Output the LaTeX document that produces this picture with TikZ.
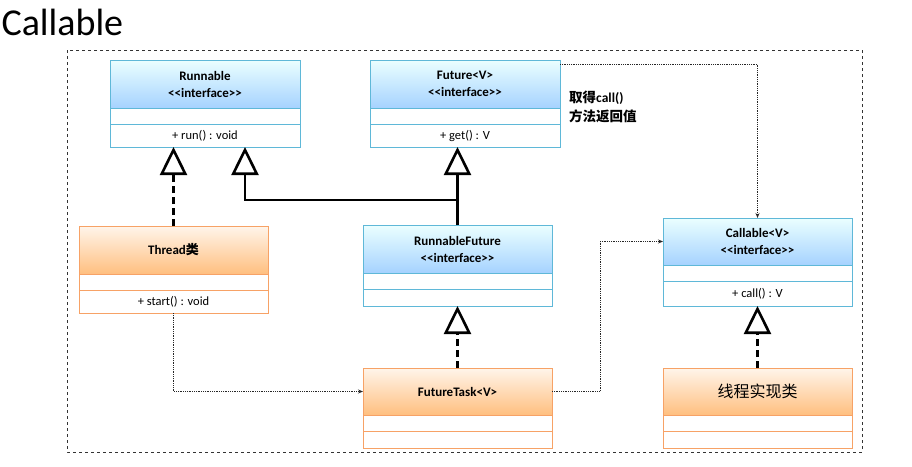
\documentclass[tikz,border=0pt]{standalone}
\usepackage{fontspec}
\setmainfont{Carlito}
\newfontfamily\cjk{Noto Sans CJK SC}
\usetikzlibrary{positioning, arrows.meta}
\definecolor{ifline}{HTML}{5FB8D8}
\definecolor{clline}{HTML}{F7A266}
\newcommand{\ltlt}{\textless\kern0pt\textless}
\newcommand{\gtgt}{\textgreater\kern0pt\textgreater}
\tikzset{
  hdr/.style={draw, rectangle, outer sep=0pt, inner sep=0pt, anchor=north west, align=center, font=\bfseries\fontsize{13}{17}\selectfont},
  ifc/.style={hdr, draw=ifline, top color=cyan!8, bottom color=cyan!50!blue!35},
  cls/.style={hdr, draw=clline, top color=orange!8, bottom color=orange!50},
  row/.style={draw, rectangle, fill=white, outer sep=0pt, inner sep=0pt, below=0pt of #1, font=\fontsize{12.5}{14}\selectfont},
  inherit/.style={line width=2.6pt, -{Triangle[open, length=28pt, width=27pt, fill=white]}},
  realize/.style={inherit, dash pattern=on 7pt off 4pt},
  dep/.style={densely dotted, thick, gray!30!black, -{Stealth[length=5pt, width=4pt]}}
}
\begin{document}
\begin{tikzpicture}[x=1pt, y=-1pt]
    \useasboundingbox (0,0) rectangle (912,466);
    % Title and frame
    \node[anchor=west, font=\fontsize{38}{44}\selectfont] (title) at (-2,22) {Callable};
    \draw[dashed, gray!40!black] (67,50) rectangle (862,452);
    % Interfaces
    \node[ifc, minimum width=190pt, minimum height=48pt] (run) at (110,60) {Runnable\\\ltlt interface\gtgt};
    \node[row=run, draw=ifline, minimum width=190pt, minimum height=16pt] (run1) {};
    \node[row=run1, draw=ifline, minimum width=190pt, minimum height=23pt] (run2) {+ run() : void};
    \node[ifc, minimum width=190pt, minimum height=48pt] (fut) at (370,60) {Future\textless V\textgreater\\\ltlt interface\gtgt};
    \node[row=fut, draw=ifline, minimum width=190pt, minimum height=16pt] (fut1) {};
    \node[row=fut1, draw=ifline, minimum width=190pt, minimum height=23pt] (fut2) {+ get() : V};
    \node[ifc, minimum width=189pt, minimum height=48pt] (rf) at (363,225) {RunnableFuture\\\ltlt interface\gtgt};
    \node[row=rf, draw=ifline, minimum width=189pt, minimum height=16pt] (rf1) {};
    \node[row=rf1, draw=ifline, minimum width=189pt, minimum height=17pt] (rf2) {};
    \node[ifc, minimum width=189pt, minimum height=47pt] (call) at (663,218) {Callable\textless V\textgreater\\\ltlt interface\gtgt};
    \node[row=call, draw=ifline, minimum width=189pt, minimum height=16pt] (call1) {};
    \node[row=call1, draw=ifline, minimum width=189pt, minimum height=25pt] (call2) {+ call() : V};
    % Classes
    \node[cls, minimum width=189pt, minimum height=48pt] (thr) at (79,226) {Thread{\cjk 类}};
    \node[row=thr, draw=clline, minimum width=189pt, minimum height=16pt] (thr1) {};
    \node[row=thr1, draw=clline, minimum width=189pt, minimum height=23pt] (thr2) {+ start() : void};
    \node[cls, minimum width=189pt, minimum height=47pt] (ft) at (363,368) {FutureTask\textless V\textgreater};
    \node[row=ft, draw=clline, minimum width=189pt, minimum height=16pt] (ft1) {};
    \node[row=ft1, draw=clline, minimum width=189pt, minimum height=17pt] (ft2) {};
    \node[cls, minimum width=189pt, minimum height=47pt, font=\cjk\fontsize{16}{18}\selectfont] (impl) at (663,368) {线程实现类};
    \node[row=impl, draw=clline, minimum width=189pt, minimum height=16pt] (impl1) {};
    \node[row=impl1, draw=clline, minimum width=189pt, minimum height=17pt] (impl2) {};
    % Note
    \node[anchor=north west, align=left, inner sep=0pt, font=\cjk\bfseries\fontsize{13.5}{19}\selectfont] (note) at (569,91) {取得{\normalfont\bfseries call()}\\方法返回值};
    % Inheritance
    \coordinate (join) at (rf.north |- 0,200);
    \coordinate (runtip) at ([xshift=40pt]run2.south);
    \draw[realize] (thr.north) -- (thr.north |- run2.south);
    \draw[inherit] (rf.north) -- (rf.north |- fut2.south);
    \draw[inherit] (join) -| (runtip);
    \draw[realize] (ft.north) -- (rf2.south);
    \draw[realize] (impl.north) -- (call2.south);
    % Dependencies
    \draw[dep] (thr2.south) |- (ft.west);
    \draw[dep] (ft.east) -- ++(48,0) |- (call.west);
    \draw[dep] ([yshift=20pt]fut.east) -| (call.north);
\end{tikzpicture}
\end{document}
